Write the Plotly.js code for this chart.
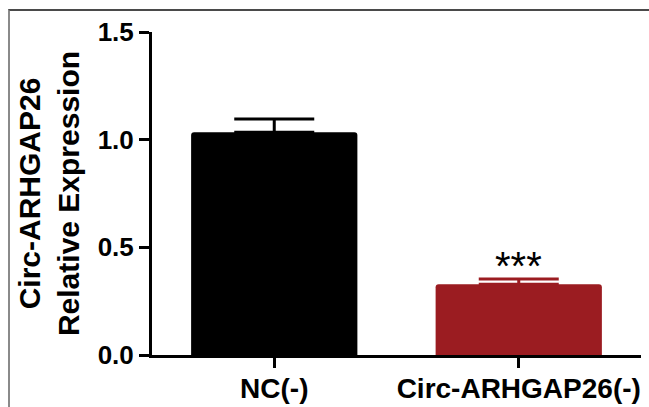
<!DOCTYPE html>
<html>
<head>
<meta charset="utf-8">
<script src="https://cdn.plot.ly/plotly-3.0.1.min.js"></script>
<style>
  html, body { margin: 0; padding: 0; background: #fff; }
  #frame { position: absolute; left: 8px; top: 9px; width: 641px; height: 398px;
           border-top: 2px solid #4a4a4a; border-left: 2px solid #8a8a8a; box-sizing: border-box; }
  #chart { position: absolute; left: 0; top: 0; width: 649px; height: 407px; }
</style>
</head>
<body>
<div id="frame"></div>
<div id="chart"></div>
<script>
const categories = ["NC(-)", "Circ-ARHGAP26(-)"];
const values = [1.034, 0.328];
const errors = [0.062, 0.025];
const colors = ["#000000", "#9b1c21"];
const significance = ["", "***"];
const yTickVals = [0.0, 0.5, 1.0, 1.5];
const yTickText = ["0.0", "0.5", "1.0", "1.5"];
const yTitle = "Circ-ARHGAP26<br>Relative Expression";

const traces = categories.map((c, i) => ({
  type: "bar",
  x: [c],
  y: [values[i]],
  width: 0.68,
  marker: { color: colors[i], line: { width: 0 }, cornerradius: 3 },
  error_y: { type: "data", array: [errors[i]], arrayminus: [0], symmetric: false,
             color: colors[i], thickness: 3, width: 40, visible: true },
  showlegend: false,
  hoverinfo: "skip"
}));

const annotations = categories.map((c, i) => ({
  x: c, y: values[i] + errors[i], xref: "x", yref: "y", yshift: -11,
  text: significance[i], showarrow: false, yanchor: "bottom",
  font: { family: "Liberation Sans, Arial, sans-serif", size: 40, color: "#000" }
})).filter(a => a.text);

const layout = {
  width: 649, height: 407,
  margin: { l: 152, r: 8, t: 32, b: 52 },
  paper_bgcolor: "rgba(0,0,0,0)",
  plot_bgcolor: "rgba(0,0,0,0)",
  xaxis: {
    type: "category", range: [-0.5, 1.5],
    showline: true, linecolor: "#000", linewidth: 3, mirror: false,
    ticks: "outside", ticklen: 10, tickwidth: 3, tickcolor: "#000",
    ticklabelstandoff: -4,
    showgrid: false, zeroline: false,
    tickfont: { family: "Liberation Sans, Arial, sans-serif", size: 28, color: "#000", weight: "bold" },
    fixedrange: true
  },
  yaxis: {
    range: [0, 1.5],
    tickvals: yTickVals, ticktext: yTickText,
    showline: true, linecolor: "#000", linewidth: 3,
    ticks: "outside", ticklen: 10, tickwidth: 3, tickcolor: "#000",
    showgrid: false, zeroline: false,
    tickfont: { family: "Liberation Sans, Arial, sans-serif", size: 26, color: "#000", weight: "bold" },
    title: { text: yTitle, standoff: 10,
             font: { family: "Liberation Sans, Arial, sans-serif", size: 30, color: "#000", weight: "bold" } },
    fixedrange: true
  },
  annotations: annotations
};

Plotly.newPlot("chart", traces, layout, { displayModeBar: false, staticPlot: true });
</script>
</body>
</html>
